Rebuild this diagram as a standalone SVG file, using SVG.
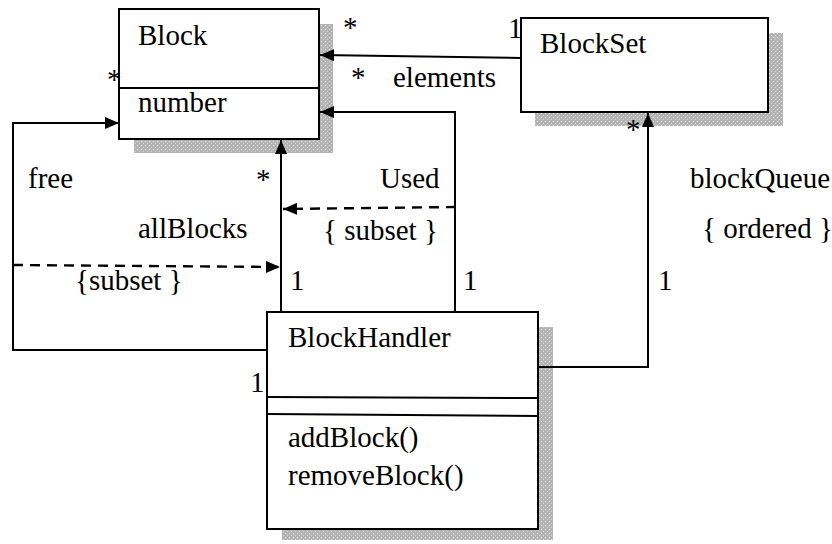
<svg xmlns="http://www.w3.org/2000/svg" width="832" height="544" viewBox="0 0 832 544">
  <defs>
    <!-- speckled grey fill for the drop shadows -->
    <pattern id="dots" width="4" height="4" patternUnits="userSpaceOnUse">
      <rect width="4" height="4" fill="#b4b4b4"/>
      <rect x="1" y="1" width="1" height="1" fill="#e6e6e6"/>
      <rect x="3" y="3" width="1" height="1" fill="#d4d4d4"/>
    </pattern>
    <marker id="arrow" viewBox="0 0 14 12" refX="14" refY="6" markerWidth="14" markerHeight="12" markerUnits="userSpaceOnUse" orient="auto">
      <path d="M0 0 L14 6 L0 12 Z" fill="#000"/>
    </marker>
  </defs>

  <!-- Block class -->
  <g id="block">
    <rect fill="url(#dots)" x="319" y="24" width="14" height="129"/>
    <rect fill="url(#dots)" x="134" y="139" width="199" height="14"/>
    <rect fill="#fff" stroke="#000" stroke-width="2" x="119" y="9" width="200" height="130"/>
    <line stroke="#000" stroke-width="2" x1="119" y1="88" x2="319" y2="88"/>
    <text font-family="Liberation Serif" font-size="29" x="138" y="45">Block</text>
    <text font-family="Liberation Serif" font-size="29" x="138" y="112">number</text>
  </g>

  <!-- BlockSet class -->
  <g id="blockset">
    <rect fill="url(#dots)" x="768" y="33" width="15" height="93"/>
    <rect fill="url(#dots)" x="535" y="112" width="248" height="14"/>
    <rect fill="#fff" stroke="#000" stroke-width="2" x="521" y="18" width="247" height="94"/>
    <text font-family="Liberation Serif" font-size="29" x="540" y="53">BlockSet</text>
  </g>

  <!-- BlockHandler class -->
  <g id="blockhandler">
    <rect fill="url(#dots)" x="538" y="327" width="15" height="213"/>
    <rect fill="url(#dots)" x="282" y="529" width="271" height="11"/>
    <rect fill="#fff" stroke="#000" stroke-width="2" x="267" y="312" width="271" height="217"/>
    <line stroke="#000" stroke-width="2" x1="267" y1="397" x2="538" y2="398"/>
    <line stroke="#000" stroke-width="2" x1="267" y1="414" x2="538" y2="416"/>
    <text font-family="Liberation Serif" font-size="29" x="288" y="347">BlockHandler</text>
    <text font-family="Liberation Serif" font-size="29" x="288" y="447">addBlock()</text>
    <text font-family="Liberation Serif" font-size="29" x="288" y="485">removeBlock()</text>
  </g>

  <!-- associations -->
  <g id="connectors" fill="none" stroke="#000" stroke-width="2">
    <path d="M521 58 L320 55" marker-end="url(#arrow)"/>
    <path d="M455 312 V112 H320" marker-end="url(#arrow)"/>
    <path stroke-dasharray="10 7" stroke-width="2.4" d="M456 207 L283 209" marker-end="url(#arrow)"/>
    <path d="M281 312 V140" marker-end="url(#arrow)"/>
    <path d="M267 350 H13 V123 H119" marker-end="url(#arrow)"/>
    <path stroke-dasharray="10 7" stroke-width="2.4" d="M13 265 L280 267" marker-end="url(#arrow)"/>
    <path d="M538 367 H648 V113" marker-end="url(#arrow)"/>
  </g>

  <!-- role names, multiplicities and constraints -->
  <g id="labels">
    <text font-family="Liberation Serif" font-size="29" x="107" y="89">*</text>
    <text font-family="Liberation Serif" font-size="29" x="343" y="37">*</text>
    <text font-family="Liberation Serif" font-size="29" x="508" y="38">1</text>
    <text font-family="Liberation Serif" font-size="29" x="351" y="87">*</text>
    <text font-family="Liberation Serif" font-size="29" x="393" y="87">elements</text>
    <text font-family="Liberation Serif" font-size="29" x="626" y="139">*</text>
    <text font-family="Liberation Serif" font-size="29" x="28" y="188">free</text>
    <text font-family="Liberation Serif" font-size="29" x="256" y="189">*</text>
    <text font-family="Liberation Serif" font-size="29" x="380" y="188">Used</text>
    <text font-family="Liberation Serif" font-size="29" x="690" y="188">blockQueue</text>
    <text font-family="Liberation Serif" font-size="29" x="138" y="238">allBlocks</text>
    <text font-family="Liberation Serif" font-size="29" x="323" y="240">{ subset }</text>
    <text font-family="Liberation Serif" font-size="29" x="702" y="238">{ ordered }</text>
    <text font-family="Liberation Serif" font-size="29" x="75" y="290">{subset }</text>
    <text font-family="Liberation Serif" font-size="29" x="290" y="290">1</text>
    <text font-family="Liberation Serif" font-size="29" x="463" y="290">1</text>
    <text font-family="Liberation Serif" font-size="29" x="658" y="290">1</text>
    <text font-family="Liberation Serif" font-size="29" x="250" y="392">1</text>
  </g>
</svg>
